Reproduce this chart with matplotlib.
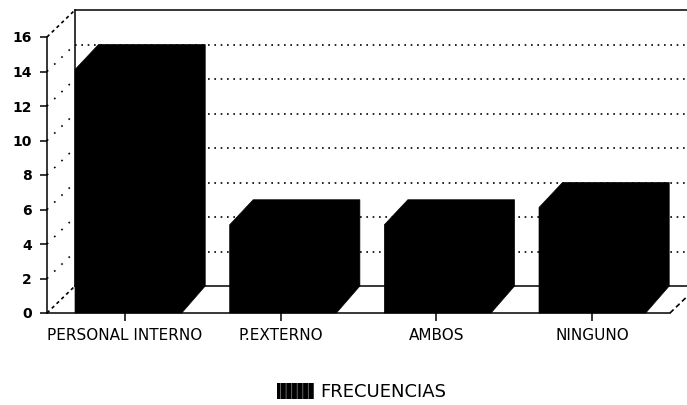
"""
Pseudo 3D bar chart of frecuencias, drawn on a single axes
"""

import matplotlib
matplotlib.use('Agg')
import matplotlib.patches as mpatches
import matplotlib.pyplot as plt

categories = ['PERSONAL INTERNO', 'P.EXTERNO', 'AMBOS', 'NINGUNO']
frecuencias = [14, 5, 5, 6]
y_ticks = [0, 2, 4, 6, 8, 10, 12, 14, 16]
legend_label = 'FRECUENCIAS'

W, H = 687, 405
AX_LEFT, AX_RIGHT, AX_TOP, AX_BOTTOM = 47, 670, 37, 313
YMAX = 16
NCAT = len(categories)

# depth of the walls and of the bars, in data units
px_x = NCAT / (AX_RIGHT - AX_LEFT)
px_y = YMAX / (AX_BOTTOM - AX_TOP)
WALL_DX = 28 * px_x
WALL_DY = 27 * px_y
BAR_DX = 23.5 * px_x
BAR_DY = 27 * px_y
CHAMFER_DY = 25 * px_y
BAR_START = 0.18
BAR_STEP = 0.993
BAR_WIDTH = 0.685

LW = 1.1
DOTS = (0, (1, 2.8))

plt.rcParams['hatch.linewidth'] = 0.6

fig = plt.figure(figsize=(W / 100, H / 100), dpi=100)
ax = fig.add_axes([AX_LEFT / W, 1 - AX_BOTTOM / H,
                   (AX_RIGHT - AX_LEFT) / W, (AX_BOTTOM - AX_TOP) / H])
ax.set_xlim(0, NCAT)
ax.set_ylim(0, YMAX)
ax.patch.set_visible(False)

for side in ['top', 'right']:
  ax.spines[side].set_visible(False)
for side in ['left', 'bottom']:
  ax.spines[side].set_linewidth(LW)
  ax.spines[side].set_zorder(5)

wall_end = NCAT + WALL_DX


def wall_line(x, y, **kw):
  ax.plot(x, y, color='black', clip_on=False, zorder=1, **kw)


# back wall
for v in y_ticks:
  back_y = v + WALL_DY
  if v == 0 or v == YMAX:
    wall_line([WALL_DX, wall_end], [back_y, back_y], lw=LW)
  else:
    wall_line([WALL_DX, wall_end], [back_y, back_y], lw=1.2, ls=DOTS)
  # left wall
  style = (0, (2, 2)) if v == 0 or v == YMAX else (0, (1, 5))
  wall_line([0, WALL_DX], [v, back_y], lw=1.2, ls=style)
wall_line([WALL_DX, WALL_DX], [WALL_DY, YMAX + WALL_DY], lw=LW)
wall_line([NCAT, wall_end], [0, WALL_DY], lw=1.2, ls=(0, (3, 2)))

# bars
for i, v in enumerate(frecuencias):
  left = i * BAR_STEP + BAR_START
  right = left + BAR_WIDTH
  outline = [(left, 0), (left, v + BAR_DY - CHAMFER_DY),
             (left + BAR_DX, v + BAR_DY), (right + BAR_DX, v + BAR_DY),
             (right + BAR_DX, BAR_DY), (right, 0)]
  ax.add_patch(mpatches.Polygon(outline, closed=True, facecolor='black',
                                edgecolor='black', lw=0.5, zorder=3,
                                clip_on=False))

ax.set_yticks(y_ticks)
ax.set_yticklabels([str(v) for v in y_ticks], fontsize=10, fontweight='bold')
ax.set_xticks([i + 0.5 for i in range(NCAT)])
ax.set_xticklabels(categories, fontsize=11)
ax.tick_params(axis='y', length=5, width=LW, pad=6)
ax.tick_params(axis='x', length=6, width=LW, pad=5)

handle = mpatches.Patch(facecolor='black', edgecolor='#777777', hatch='|||',
                        lw=0, label=legend_label)
ax.legend(handles=[handle], loc='center', frameon=False, fontsize=13,
          bbox_to_anchor=((362 - AX_LEFT) / (AX_RIGHT - AX_LEFT),
                          -(392 - AX_BOTTOM) / (AX_BOTTOM - AX_TOP)),
          handlelength=2.05, handleheight=1.0, handletextpad=0.35,
          borderpad=0)

plt.savefig('out.png', dpi=100)
plt.close()
